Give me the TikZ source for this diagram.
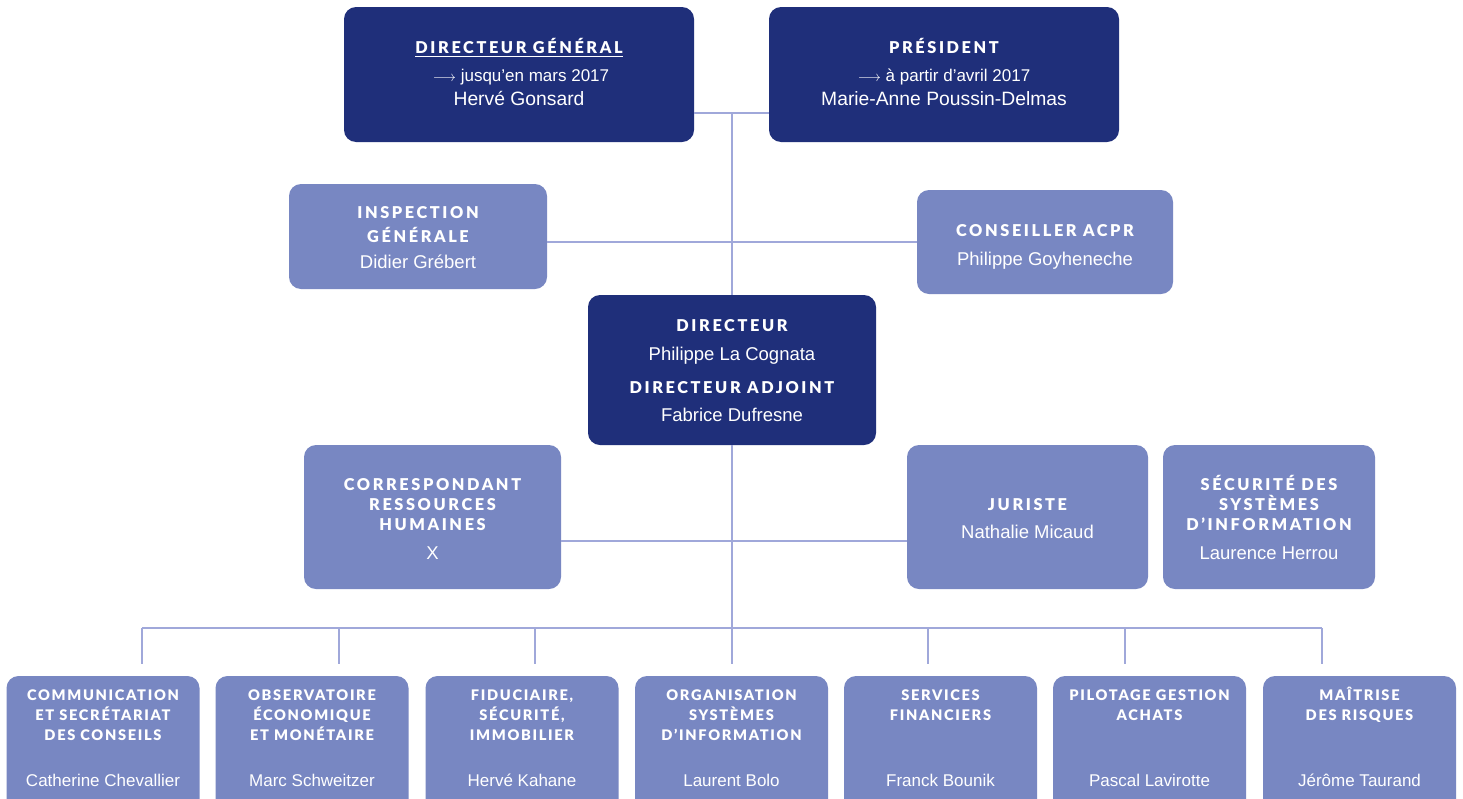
\documentclass[tikz,border=0pt]{standalone}
\usepackage{fontspec}
\setmainfont{Liberation Sans}
\newfontfamily\hdfont[LetterSpace=16]{Lato Black}
\newfontfamily\hdsfont[LetterSpace=11.5]{Lato Black}
\usetikzlibrary{calc}
\definecolor{navy}{RGB}{31,47,122}
\definecolor{lav}{RGB}{120,135,194}
\definecolor{lnk}{RGB}{160,168,218}
\begin{document}
\begin{tikzpicture}[x=1pt,y=-1pt,
  box/.style={rounded corners=12pt, inner sep=0pt, draw=none},
  dark/.style={box, fill=navy},
  light/.style={box, fill=lav},
  hd/.style={text=white, font=\hdfont\fontsize{16.3}{16}\selectfont, anchor=base, inner sep=0pt},
  hds/.style={hd, font=\hdsfont\fontsize{14.6}{15}\selectfont},
  nm/.style={text=white, font=\fontsize{19.3}{20}\selectfont, anchor=base, inner sep=0pt},
  nmm/.style={nm, font=\fontsize{18.5}{20}\selectfont},
  nms/.style={nm, font=\fontsize{17}{18}\selectfont},
  dt/.style={nm, font=\fontsize{17}{18}\selectfont},
  link/.style={draw=lnk, line width=1.4pt}
]
\useasboundingbox (0,0) rectangle (1463,798);
\fill[white] (0,0) rectangle (1463,798);
\begin{scope}
\clip (0,0) rectangle (1463,798);
% ---- boxes
\node[dark, minimum width=350pt, minimum height=135pt] (dg) at (519,74.5) {};
\node[dark, minimum width=350pt, minimum height=135pt] (pres) at (944,74.5) {};
\node[light, minimum width=258pt, minimum height=105pt] (insp) at (418,236.5) {};
\node[light, minimum width=256pt, minimum height=104pt] (cons) at (1045,242) {};
\node[dark, minimum width=288pt, minimum height=150pt] (dir) at (732,370) {};
\node[light, minimum width=257pt, minimum height=144pt] (rh) at (432.5,517) {};
\node[light, minimum width=241pt, minimum height=144pt] (jur) at (1027.5,517) {};
\node[light, minimum width=212pt, minimum height=144pt] (ssi) at (1269,517) {};
\foreach \i/\x in {1/103,2/312,3/522,4/731.5,5/940.5,6/1149.5,7/1359.5}{
  \node[light, minimum width=193pt, minimum height=154pt] (b\i) at (\x,753) {};
}
% ---- connectors
\coordinate (j1) at (732,113);
\coordinate (j2) at (732,242);
\coordinate (j3) at (732,541);
\coordinate (bus) at (732,628);
\draw[link] (dg.east |- j1) -- (pres.west |- j1);
\draw[link] (j1) -- (dir.north);
\draw[link] (insp.east |- j2) -- (cons.west |- j2);
\draw[link] (dir.south) -- (bus);
\draw[link] (rh.east |- j3) -- (jur.west |- j3);
\coordinate (bl) at (142,628);
\coordinate (br) at (1322,628);
\draw[link] (bl) -- (br);
\foreach \i/\x in {1/142,2/339,3/535,4/732,5/928,6/1125,7/1322}{
  \coordinate (d\i) at (\x,664);
  \draw[link] (\x,628) -- (d\i);
}
% ---- texts: top
\node[hd] (dgh) at (519,53) {DIRECTEUR GÉNÉRAL};
\draw[white, line width=1.3pt] ($(dgh.base west)+(0,3.6)$) -- ($(dgh.base east)+(0,3.6)$);
\node[dt] (dgd) at (521,81.5) {{\fontsize{15}{15}\selectfont$\longrightarrow$}\ jusqu’en mars 2017};
\node[nm] (dgn) at (519,105) {Hervé Gonsard};
\node[hd] (prh) at (944,53) {PRÉSIDENT};
\node[dt] (prd) at (944,81.5) {{\fontsize{15}{15}\selectfont$\longrightarrow$}\ à partir d’avril 2017};
\node[nm] (prn) at (944,105) {Marie-Anne Poussin-Delmas};
% inspection
\node[hd] (ih1) at (418,218) {INSPECTION};
\node[hd] (ih2) at (418,242.7) {GÉNÉRALE};
\node[nmm] (in) at (418,268) {Didier Grébert};
% conseiller
\node[hd] (ch) at (1045,236.5) {CONSEILLER ACPR};
\node[nmm] (cn) at (1045,265) {Philippe Goyheneche};
% directeur
\node[hd] (dh1) at (732,331.5) {DIRECTEUR};
\node[nmm] (dn1) at (732,360) {Philippe La Cognata};
\node[hd] (dh2) at (732,393.5) {DIRECTEUR ADJOINT};
\node[nmm] (dn2) at (732,421.5) {Fabrice Dufresne};
% RH
\node[hd] (rh1) at (432.5,490) {CORRESPONDANT};
\node[hd] (rh2) at (432.5,510) {RESSOURCES};
\node[hd] (rh3) at (432.5,530.7) {HUMAINES};
\node[nmm] (rhn) at (432.5,559) {X};
% juriste
\node[hd] (jh) at (1027.5,510) {JURISTE};
\node[nmm] (jn) at (1027.5,538) {Nathalie Micaud};
% ssi
\node[hd] (s1) at (1269,490) {SÉCURITÉ DES};
\node[hd] (s2) at (1269,510) {SYSTÈMES};
\node[hd] (s3) at (1269,530.7) {D’INFORMATION};
\node[nmm] (sn) at (1269,559) {Laurence Herrou};
% bottom
\node[hds] (b1a) at (103,700) {COMMUNICATION};
\node[hds] (b1b) at (103,720.7) {ET SECRÉTARIAT};
\node[hds] (b1c) at (103,740.7) {DES CONSEILS};
\node[nms] (b1n) at (103,786.7) {Catherine Chevallier};
\node[hds] (b2a) at (312,700) {OBSERVATOIRE};
\node[hds] (b2b) at (312,720.7) {ÉCONOMIQUE};
\node[hds] (b2c) at (312,740.7) {ET MONÉTAIRE};
\node[nms] (b2n) at (312,786.7) {Marc Schweitzer};
\node[hds] (b3a) at (522,700) {FIDUCIAIRE,};
\node[hds] (b3b) at (522,720.7) {SÉCURITÉ,};
\node[hds] (b3c) at (522,740.7) {IMMOBILIER};
\node[nms] (b3n) at (522,786.7) {Hervé Kahane};
\node[hds] (b4a) at (731.5,700) {ORGANISATION};
\node[hds] (b4b) at (731.5,720.7) {SYSTÈMES};
\node[hds] (b4c) at (731.5,740.7) {D’INFORMATION};
\node[nms] (b4n) at (731.5,786.7) {Laurent Bolo};
\node[hds] (b5a) at (940.5,700) {SERVICES};
\node[hds] (b5b) at (940.5,720.7) {FINANCIERS};
\node[nms] (b5n) at (940.5,786.7) {Franck Bounik};
\node[hds] (b6a) at (1149.5,700) {PILOTAGE GESTION};
\node[hds] (b6b) at (1149.5,720.7) {ACHATS};
\node[nms] (b6n) at (1149.5,786.7) {Pascal Lavirotte};
\node[hds] (b7a) at (1359.5,700) {MAÎTRISE};
\node[hds] (b7b) at (1359.5,720.7) {DES RISQUES};
\node[nms] (b7n) at (1359.5,786.7) {Jérôme Taurand};
\end{scope}
\end{tikzpicture}
\end{document}
